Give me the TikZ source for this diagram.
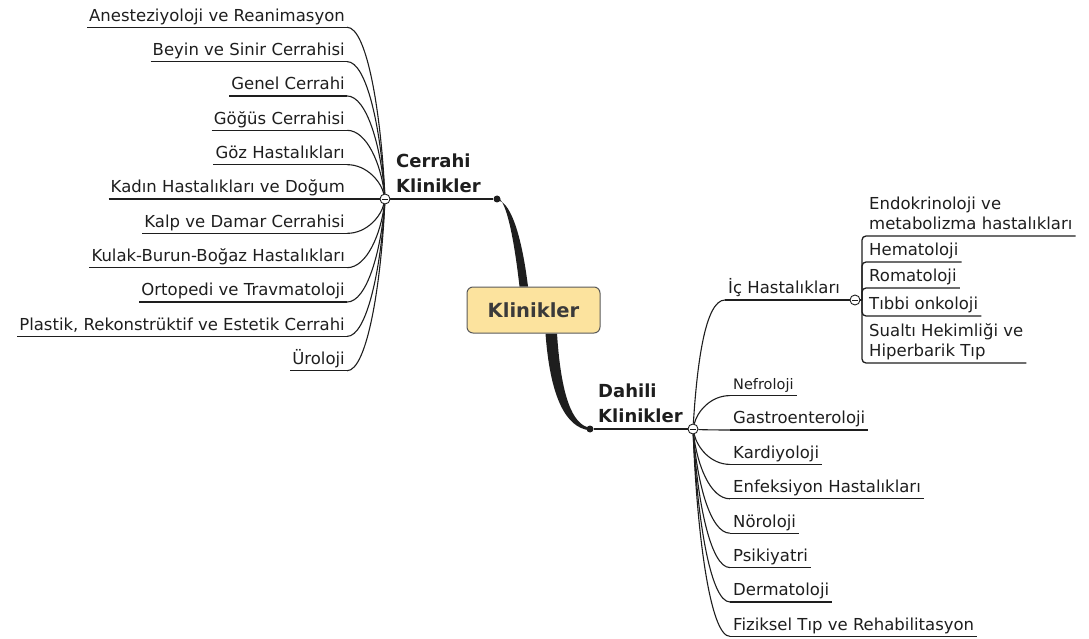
\documentclass[tikz,border=0pt]{standalone}
\usepackage{fontspec}
\setmainfont{DejaVu Sans}
\usetikzlibrary{calc}
\definecolor{ink}{HTML}{1E1E1E}
\definecolor{rootfill}{HTML}{FCE39E}
\definecolor{rootedge}{HTML}{5A5A5A}
\definecolor{roottext}{HTML}{3A3A3A}
\pgfdeclarelayer{bg}
\pgfsetlayers{bg,main}
\begin{document}
\begin{tikzpicture}[x=1pt,y=-1pt,
  leaftext/.style={font=\fontsize{16.5}{20.5}\selectfont, text=ink, inner ysep=0pt, text depth=6pt},
  leftleaf/.style={leaftext, anchor=south east, inner xsep=2pt},
  rightleaf/.style={leaftext, anchor=south west, inner xsep=3pt, align=left},
  branchlabel/.style={font=\bfseries\fontsize{18}{25}\selectfont, text=ink, inner sep=0pt, anchor=north west, align=left},
  conn/.style={draw=ink, line width=1.1pt},
  uline/.style={draw=ink, line width=1.3pt},
  junction/.style={circle, draw=ink, fill=white, line width=0.9pt, minimum size=10pt, inner sep=0pt},
  knot/.style={circle, fill=ink, minimum size=7pt, inner sep=0pt},
  rootbox/.style={rounded corners=6pt, draw=rootedge, fill=rootfill, line width=1pt,
    minimum width=133pt, minimum height=46pt, font=\bfseries\fontsize{19.5}{22}\selectfont, text=roottext}
]
\useasboundingbox (0,0) rectangle (1089,639);

% central topic, knots and junctions
\node[rootbox] (root) at (533.5,310) {Klinikler};
\node[knot] (d1) at (497,199) {};
\node[knot] (d2) at (590,429) {};
\node[junction] (cj) at (385,199) {};
\node[junction] (dj) at (693,429) {};
\node[branchlabel] (cl) at (396,153.5) {Cerrahi\\Klinikler};
\node[branchlabel] (dl) at (598,383.5) {Dahili\\Klinikler};

% surgical clinics (left)
\foreach \i/\t in {0/Anesteziyoloji ve Reanimasyon, 1/Beyin ve Sinir Cerrahisi, 2/Genel Cerrahi,
  3/Göğüs Cerrahisi, 4/Göz Hastalıkları, 5/Kadın Hastalıkları ve Doğum, 6/Kalp ve Damar Cerrahisi,
  7/Kulak-Burun-Boğaz Hastalıkları, 8/Ortopedi ve Travmatoloji,
  9/{Plastik, Rekonstrüktif ve Estetik Cerrahi}, 10/Üroloji}
  \node[leftleaf] (L\i) at (347,{199+34.35*(\i-5)}) {\t};

% internal clinics (right)
\node[rightleaf, font=\fontsize{14.5}{18}\selectfont] (R0) at (730,395.6) {Nefroloji};
\foreach \i/\t in {1/Gastroenteroloji, 2/Kardiyoloji, 3/Enfeksiyon Hastalıkları, 4/Nöroloji,
  5/Psikiyatri, 6/Dermatoloji, 7/Fiziksel Tıp ve Rehabilitasyon}
  \node[rightleaf] (R\i) at (730,{395.6+34.4*\i}) {\t};

% internal medicine sub-branch
\node[rightleaf] (ic) at (725,300) {İç Hastalıkları};
\node[junction] (ij) at (855,300) {};
\coordinate (bar) at (862,300);
\node[rightleaf] (S1) at (866,236) {Endokrinoloji ve\\metabolizma hastalıkları};
\node[rightleaf] (S2) at (866,262) {Hematoloji};
\node[rightleaf] (S3) at (866,288) {Romatoloji};
\node[rightleaf] (S4) at (866,316) {Tıbbi onkoloji};
\node[rightleaf] (S5) at (866,363) {Sualtı Hekimliği ve\\Hiperbarik Tıp};

% collapse marks on the junctions
\foreach \j in {cj,dj,ij}
  \draw[draw=ink, line width=0.9pt] ([xshift=2.5pt]\j.west) -- ([xshift=-2.5pt]\j.east);

\begin{pgfonlayer}{bg}
  % tapered main branches
  \fill[ink] ($(d1)+(0,-1.2)$) .. controls (505,198) and (513,230) .. ($(root.north)+(-14,0)$)
    -- ($(root.north)+(-5.5,0)$) .. controls (521,230) and (509,200.5) .. ($(d1)+(0,1.3)$) -- cycle;
  \fill[ink] ($(root.south)+(12,0)$) .. controls (550,395) and (565,428) .. ($(d2)+(0,1.3)$)
    -- ($(d2)+(0,-1.2)$) .. controls (572,425) and (561,395) .. ($(root.south)+(23.5,0)$) -- cycle;
  \draw[conn] (d1) -- (cj);
  \draw[conn] (d2) -- (dj);

  % left fan
  \foreach \i in {0,...,10} {
    \pgfmathsetmacro\yy{34.35*(\i-5)}
    \draw[uline] (L\i.south west) -- (L\i.south east);
    \draw[conn] (L\i.south east) .. controls +(20,0) and +(-4,{0.5*\yy}) .. (cj);
  }

  % right fan
  \foreach \i in {0,...,7} {
    \pgfmathsetmacro\yy{34.4*\i-33.4}
    \draw[uline] (R\i.south west) -- (R\i.south east);
    \draw[conn] (dj) .. controls +(4,{0.5*\yy}) and +(-20,0) .. (R\i.south west);
  }

  % internal medicine
  \draw[conn] (dj) .. controls +(4,-64) and +(-20,0) .. (ic.south west);
  \draw[uline] (ic.south west) -- (ic.south east);
  \draw[conn] (ic.south east) -- (ij);
  \draw[conn] (ij) -- (bar);
  \foreach \s in {S1,S2,S3,S4,S5}
    \draw[uline, rounded corners=4pt] (bar) |- (\s.south east);
\end{pgfonlayer}
\end{tikzpicture}
\end{document}
